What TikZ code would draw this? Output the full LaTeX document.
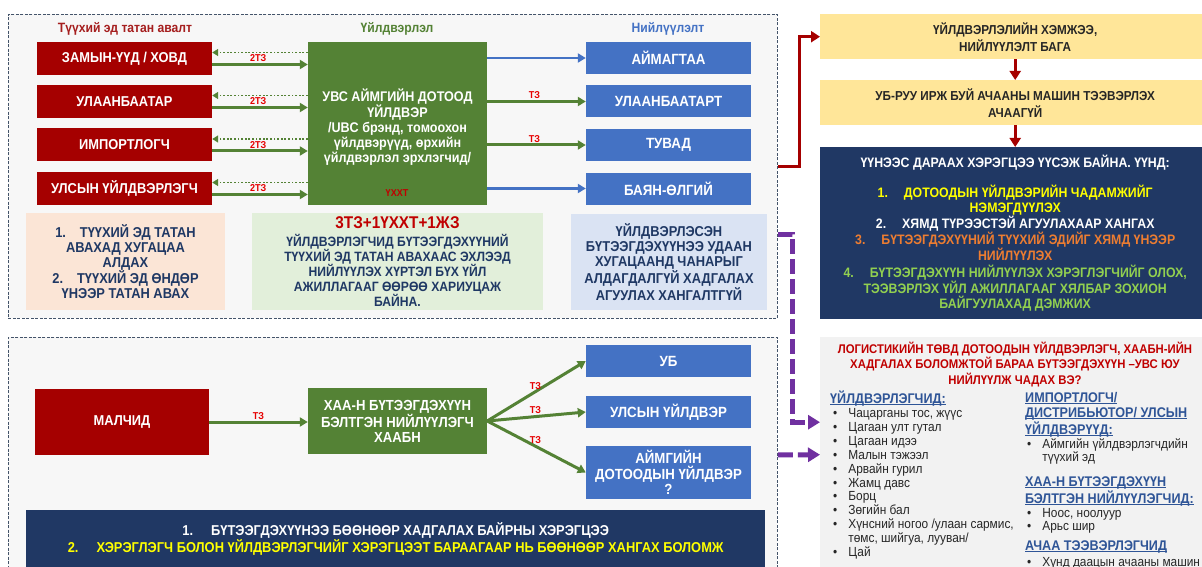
\documentclass[tikz,border=0pt]{standalone}
\usepackage{fontspec}
\setmainfont{Liberation Sans}[FakeStretch=0.9]
\usetikzlibrary{arrows.meta,calc}
\newcommand\fz[2]{\fontsize{#1}{#2}\selectfont}
\newcommand\myul[1]{\sbox0{#1}\rlap{\rule[-2pt]{\wd0}{1pt}}\usebox0}
\definecolor{cRed}{RGB}{165,0,0}
\definecolor{cGreen}{RGB}{84,130,53}
\definecolor{cBlue}{RGB}{68,114,196}
\definecolor{cNavy}{RGB}{32,56,100}
\definecolor{cNavyT}{RGB}{31,56,100}
\definecolor{cPeach}{RGB}{251,229,214}
\definecolor{cLGreen}{RGB}{226,239,218}
\definecolor{cLBlue}{RGB}{218,227,243}
\definecolor{cYellow}{RGB}{255,230,153}
\definecolor{cPurple}{RGB}{112,48,160}
\definecolor{cOrange}{RGB}{237,125,49}
\definecolor{cLime}{RGB}{146,208,80}
\definecolor{cBright}{RGB}{255,255,0}
\definecolor{cLabel}{RGB}{230,0,0}
\definecolor{cDRed}{RGB}{192,0,0}
\definecolor{cPanel}{RGB}{247,247,247}
\definecolor{cPanelB}{RGB}{242,242,242}
\definecolor{cBorder}{RGB}{68,84,106}
\definecolor{cHead}{RGB}{47,85,151}
\definecolor{cTitleRed}{RGB}{165,30,30}
\definecolor{cDark}{RGB}{38,38,38}
\tikzset{
  panel/.style={draw=cBorder, line width=0.9pt, dash pattern=on 3pt off 1.5pt, fill=cPanel, inner sep=0pt},
  cbox/.style={inner sep=0pt, align=center, font=\bfseries\fz{14}{16}},
  redb/.style={cbox, fill=cRed, text=white, font=\bfseries\fz{14.3}{16}, minimum width=175pt, minimum height=33pt},
  blueb/.style={cbox, fill=cBlue, text=white, font=\bfseries\fz{14.8}{16}, minimum width=165pt, minimum height=32pt},
  greenb/.style={cbox, fill=cGreen, text=white},
  noteb/.style={cbox, text=cNavyT, font=\bfseries\fz{14.3}{15}},
  yelb/.style={cbox, fill=cYellow, text=cDark, font=\bfseries\fz{13}{17}, anchor=north west, minimum width=390pt, minimum height=45pt},
  hdr/.style={inner sep=0pt, font=\bfseries\fz{13.5}{15}},
  lbl/.style={inner sep=1pt, font=\bfseries\fz{10}{12}, text=cLabel},
  hd/.style={inner sep=0pt, anchor=base west, text=cHead, font=\bfseries\fz{14}{15}},
  ls/.style={inner sep=0pt, anchor=base west, text=cDark, font=\fz{13.2}{13.9}},
  garrow/.style={draw=cGreen, line width=3pt, -{Triangle[length=8pt,width=9pt]}},
  gdot/.style={draw=cGreen, line width=1.8pt, dash pattern=on 1.8pt off 1.8pt, -{Triangle[length=6pt,width=7pt]}},
  barrow/.style={draw=cBlue, line width=2.5pt, -{Triangle[length=8pt,width=9pt]}},
  rline/.style={draw=cRed, line width=3pt, -{Triangle[length=9pt,width=11pt]}},
  parrow/.style={draw=cPurple, line width=5pt, dash pattern=on 15pt off 5pt, -{Triangle[length=12pt,width=14pt]}}
}
\begin{document}
\begin{tikzpicture}[x=1pt,y=-1pt]
\fill[white] (0,0) rectangle (1202,567);
\useasboundingbox (0,0) rectangle (1202,567);

% panels
\node[panel, anchor=north west, minimum width=769pt, minimum height=304pt] (tp) at (8,14) {};
\node[panel, anchor=north west, minimum width=769pt, minimum height=245pt] (bp) at (8,337) {};

% headers
\node[hdr, text=cTitleRed] (h1) at (125,29) {Түүхий эд татан авалт};
\node[hdr, text=cGreen] (h2) at (397,29) {Үйлдвэрлэл};
\node[hdr, text=cBlue] (h3) at (668,29) {Нийлүүлэлт};

% sources
\node[redb] (r1) at (124.5,58.5) {ЗАМЫН-ҮҮД / ХОВД};
\node[redb] (r2) at (124.5,101.5) {УЛААНБААТАР};
\node[redb] (r3) at (124.5,145) {ИМПОРТЛОГЧ};
\node[redb] (r4) at (124.5,188.5) {УЛСЫН ҮЙЛДВЭРЛЭГЧ};

% production
\node[greenb, minimum width=179pt, minimum height=163pt] (prod) at (397.5,123.5) {};
\node[cbox, text=white, font=\bfseries\fz{14}{15}] (prodtxt) at (397.5,127) {УВС АЙМГИЙН ДОТООД\\ҮЙЛДВЭР\\/UBC брэнд, томоохон\\үйлдвэрүүд, өрхийн\\үйлдвэрлэл эрхлэгчид/};
\node[cbox, text=cDRed, font=\bfseries\fz{10}{12}] (uxxt) at (397,193) {ҮХХТ};

% supply
\node[blueb] (b1) at (668.5,58) {АЙМАГТАА};
\node[blueb] (b2) at (668.5,101.5) {УЛААНБААТАРТ};
\node[blueb] (b3) at (668.5,145) {ТУВАД};
\node[blueb] (b4) at (668.5,188.5) {БАЯН-ӨЛГИЙ};

% notes
\node[noteb, fill=cPeach, minimum width=199pt, minimum height=97pt] (n1) at (125.5,261.5) {1.\hspace{14pt}ТҮҮХИЙ ЭД ТАТАН\\АВАХАД ХУГАЦАА\\АЛДАХ\\2.\hspace{14pt}ТҮҮХИЙ ЭД ӨНДӨР\\ҮНЭЭР ТАТАН АВАХ};
\node[noteb, font=\bfseries\fz{13.5}{15}, fill=cLGreen, minimum width=291pt, minimum height=97pt] (n2) at (397.5,261.5) {{\color{cDRed}\fz{17}{19}3ТЗ+1ҮХХТ+1ЖЗ}\\[3pt]ҮЙЛДВЭРЛЭГЧИД БҮТЭЭГДЭХҮҮНИЙ\\ТҮҮХИЙ ЭД ТАТАН АВАХААС ЭХЛЭЭД\\НИЙЛҮҮЛЭХ ХҮРТЭЛ БҮХ ҮЙЛ\\АЖИЛЛАГААГ ӨӨРӨӨ ХАРИУЦАЖ\\БАЙНА.};
\node[noteb, fill=cLBlue, minimum width=196pt, minimum height=96pt] (n3) at (669,262) {ҮЙЛДВЭРЛЭСЭН\\БҮТЭЭГДЭХҮҮНЭЭ УДААН\\ХУГАЦААНД ЧАНАРЫГ\\АЛДАГДАЛГҮЙ ХАДГАЛАХ\\АГУУЛАХ ХАНГАЛТГҮЙ};

% top arrows
\foreach \i in {1,2,3,4}{
  \draw[gdot] ($(prod.west|-r\i.east)+(0,-6)$) -- ($(r\i.east)+(0,-6)$);
  \draw[garrow] ($(r\i.east)+(0,6)$) -- node[lbl, above, pos=.48]{2ТЗ} ($(prod.west|-r\i.east)+(0,6)$);
}
\draw[barrow] (prod.east|-b1.west) -- (b1.west);
\draw[garrow] (prod.east|-b2.west) -- node[lbl, above, pos=.48]{ТЗ} (b2.west);
\draw[garrow] (prod.east|-b3.west) -- node[lbl, above, pos=.48]{ТЗ} (b3.west);
\draw[barrow] (prod.east|-b4.west) -- (b4.west);

% right column
\node[yelb] (y1) at (820,14) {ҮЙЛДВЭРЛЭЛИЙН ХЭМЖЭЭ,\\НИЙЛҮҮЛЭЛТ БАГА};
\node[yelb] (y2) at (820,80) {УБ-РУУ ИРЖ БУЙ АЧААНЫ МАШИН ТЭЭВЭРЛЭХ\\АЧААГҮЙ};
\node[cbox, fill=cNavy, font=\bfseries\fz{13.7}{15}, anchor=north west, minimum width=390pt, minimum height=172pt] (nv) at (820,147) {\textcolor{white}{ҮҮНЭЭС ДАРААХ ХЭРЭГЦЭЭ ҮҮСЭЖ БАЙНА. ҮҮНД:}\\[14pt]\textcolor{cBright}{1.\hspace{16pt}ДОТООДЫН ҮЙЛДВЭРИЙН ЧАДАМЖИЙГ}\\\textcolor{cBright}{НЭМЭГДҮҮЛЭХ}\\\textcolor{white}{2.\hspace{16pt}ХЯМД ТҮРЭЭСТЭЙ АГУУЛАХААР ХАНГАХ}\\\textcolor{cOrange}{3.\hspace{16pt}БҮТЭЭГДЭХҮҮНИЙ ТҮҮХИЙ ЭДИЙГ ХЯМД ҮНЭЭР}\\\textcolor{cOrange}{НИЙЛҮҮЛЭХ}\\[2pt]\textcolor{cLime}{4.\hspace{16pt}БҮТЭЭГДЭХҮҮН НИЙЛҮҮЛЭХ ХЭРЭГЛЭГЧИЙГ ОЛОХ,}\\\textcolor{cLime}{ТЭЭВЭРЛЭХ ҮЙЛ АЖИЛЛАГААГ ХЯЛБАР ЗОХИОН}\\\textcolor{cLime}{БАЙГУУЛАХАД ДЭМЖИХ}};
\draw[rline] (tp.east) -- ++(22,0) |- (y1.west);
\draw[rline] (y1.south) -- (y2.north);
\draw[rline] (y2.south) -- (nv.north);

% bottom panel
\node[redb, minimum width=174pt, minimum height=66pt] (mal) at (122,422) {МАЛЧИД};
\node[greenb, font=\bfseries\fz{14.6}{15}, minimum width=179pt, minimum height=66pt] (khaa) at (397.5,421) {ХАА-Н БҮТЭЭГДЭХҮҮН\\БЭЛТГЭН НИЙЛҮҮЛЭГЧ\\ХААБН};
\node[blueb] (ub) at (668.5,361) {УБ};
\node[blueb] (uu) at (668.5,412) {УЛСЫН ҮЙЛДВЭР};
\node[blueb, minimum height=53pt, font=\bfseries\fz{14.7}{15.5}] (ad) at (668.5,472.5) {АЙМГИЙН\\ДОТООДЫН ҮЙЛДВЭР\\?};
\draw[garrow] (mal.east) -- node[lbl, above, pos=.5]{ТЗ} (mal.east-|khaa.west);
\draw[garrow] (khaa.east) -- node[lbl, above, pos=.49]{ТЗ} (ub.west);
\draw[garrow] (khaa.east) -- node[lbl, above, pos=.49]{ТЗ} (uu.west);
\draw[garrow] (khaa.east) -- node[lbl, above, pos=.49]{ТЗ} (ad.west);
\node[cbox, fill=cNavy, font=\bfseries\fz{14.3}{16.5}, anchor=north west, minimum width=739pt, minimum height=57pt] (ban) at (26,510) {\textcolor{white}{1.\hspace{18pt}БҮТЭЭГДЭХҮҮНЭЭ БӨӨНӨӨР ХАДГАЛАХ БАЙРНЫ ХЭРЭГЦЭЭ}\\\textcolor{cBright}{2.\hspace{18pt}ХЭРЭГЛЭГЧ БОЛОН ҮЙЛДВЭРЛЭГЧИЙГ ХЭРЭГЦЭЭТ БАРААГААР НЬ БӨӨНӨӨР ХАНГАХ БОЛОМЖ}};

% right bottom panel
\node[anchor=north west, fill=cPanelB, minimum width=390pt, minimum height=245pt, inner sep=0pt] (rbp) at (820,337) {};
\node[cbox, text=cDRed, font=\bfseries\fz{12.6}{15.5}] (rbt) at (1015,364.5) {ЛОГИСТИКИЙН ТӨВД ДОТООДЫН ҮЙЛДВЭРЛЭГЧ, ХААБН-ИЙН\\ХАДГАЛАХ БОЛОМЖТОЙ БАРАА БҮТЭЭГДЭХҮҮН –УВС ЮУ\\НИЙЛҮҮЛЖ ЧАДАХ ВЭ?};
\node[hd] (lh) at (830,403) {\myul{ҮЙЛДВЭРЛЭГЧИД:}};
\node[ls] (ll) at (833,417.5) {\begin{tabular}[t]{@{}l@{\hspace{11pt}}l@{}}•&Чацарганы тос, жүүс\\•&Цагаан улт гутал\\•&Цагаан идээ\\•&Малын тэжээл\\•&Арвайн гурил\\•&Жамц давс\\•&Борц\\•&Зөгийн бал\\•&Хүнсний ногоо /улаан сармис,\\&төмс, шийгуа, лууван/\\•&Цай\end{tabular}};
\node[hd] (rh1) at (1025,402) {\begin{tabular}[t]{@{}l@{}}\myul{ИМПОРТЛОГЧ/}\\\myul{ДИСТРИБЬЮТОР/ УЛСЫН}\\\myul{ҮЙЛДВЭРҮҮД:}\end{tabular}};
\node[ls] (rl1) at (1027,448) {\begin{tabular}[t]{@{}l@{\hspace{11pt}}l@{}}•&Аймгийн үйлдвэрлэгчдийн\\&түүхий эд\end{tabular}};
\node[hd] (rh2) at (1025,486) {\begin{tabular}[t]{@{}l@{}}\myul{ХАА-Н БҮТЭЭГДЭХҮҮН}\\\myul{БЭЛТГЭН НИЙЛҮҮЛЭГЧИД:}\end{tabular}};
\node[ls] (rl2) at (1027,517) {\begin{tabular}[t]{@{}l@{\hspace{11pt}}l@{}}•&Ноос, ноолуур\\•&Арьс шир\end{tabular}};
\node[hd] (rh3) at (1025,550) {\myul{АЧАА ТЭЭВЭРЛЭГЧИД}};
\node[ls] (rl3) at (1027,566) {•\hspace{11pt}Хүнд даацын ачааны машин};

% purple dashed connectors
\draw[parrow] ($(tp.east)+(0,68)$) -- ++(15,0) |- ($(rbp.west)+(0,-37.5)$);
\draw[parrow] ($(bp.east)+(0,-5)$) -- ($(rbp.west)+(0,-5)$);
\end{tikzpicture}
\end{document}
